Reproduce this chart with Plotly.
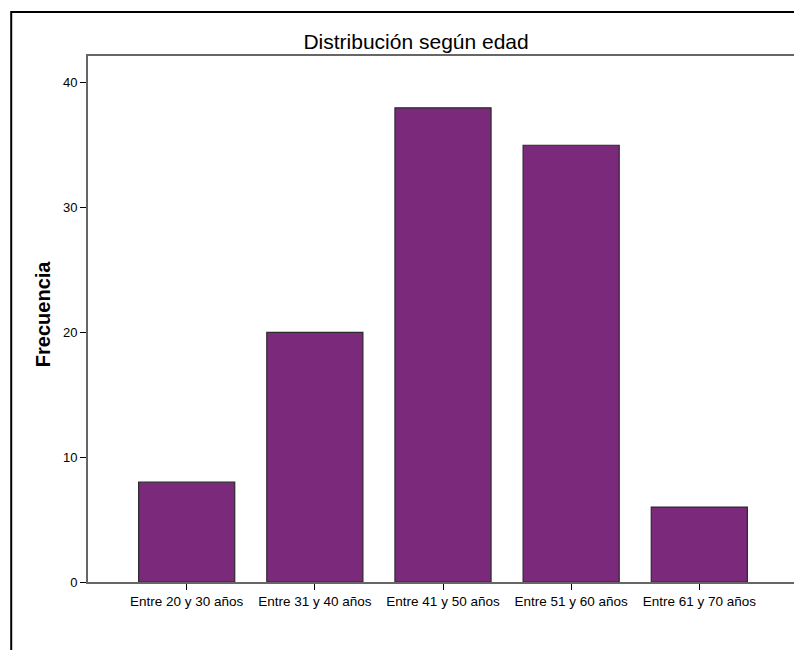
import plotly.graph_objects as go

categories = ["Entre 20 y 30 años", "Entre 31 y 40 años", "Entre 41 y 50 años",
              "Entre 51 y 60 años", "Entre 61 y 70 años"]
frecuencia = [8, 20, 38, 35, 6]
y_ticks = [0, 10, 20, 30, 40]

# page body has an 8px margin, so figure coords = page coords - 8
OFF = 8
W, H = 802 - OFF, 650 - OFF
L, R, T = 88 - OFF, 2, 56 - OFF
B = H - (582 - OFF)
pw, ph = W - L - R, H - T - B

fig = go.Figure(go.Bar(
    x=categories, y=frecuencia,
    width=0.75,
    marker=dict(color="#7B2A7B", line=dict(color="#2b2b2b", width=1.2)),
))

fig.update_layout(
    width=W, height=H,
    margin=dict(l=L, r=R, t=T, b=B),
    paper_bgcolor="white", plot_bgcolor="white",
    font=dict(family="Liberation Sans, Arial, sans-serif", color="#000"),
    showlegend=False,
    title=dict(text="Distribución según edad", x=(417 - OFF - L) / pw, xanchor="center",
               xref="paper",
               y=1 - (42 - OFF) / H, yanchor="middle",
               font=dict(size=21, color="#000")),
    xaxis=dict(range=[-0.77, 4.77], showgrid=False, zeroline=False,
               showline=True, linecolor="#666", linewidth=2, mirror=True,
               ticks="outside", ticklen=6, tickcolor="#000", tickwidth=1,
               tickfont=dict(size=13.5), fixedrange=True),
    yaxis=dict(range=[0, 42.15], tickvals=y_ticks, showgrid=False, zeroline=False,
               showline=True, linecolor="#666", linewidth=2, mirror=True,
               ticks="outside", ticklen=6, tickcolor="#000", tickwidth=1,
               tickfont=dict(size=13)),
    annotations=[dict(text="<b>Frecuencia</b>", textangle=-90, showarrow=False,
                      xref="paper", yref="paper",
                      x=(43 - OFF - L) / pw, y=1 - (314 - 56) / ph,
                      xanchor="center", yanchor="middle",
                      font=dict(size=20, color="#000"))],
    shapes=[dict(type="rect", xref="paper", yref="paper",
                 x0=(11 - OFF - L) / pw, x1=1.2, y0=-0.3, y1=1 + (56 - 12) / ph,
                 line=dict(color="#000", width=2), fillcolor="rgba(0,0,0,0)",
                 layer="below")],
)

fig.write_html("out.html")
